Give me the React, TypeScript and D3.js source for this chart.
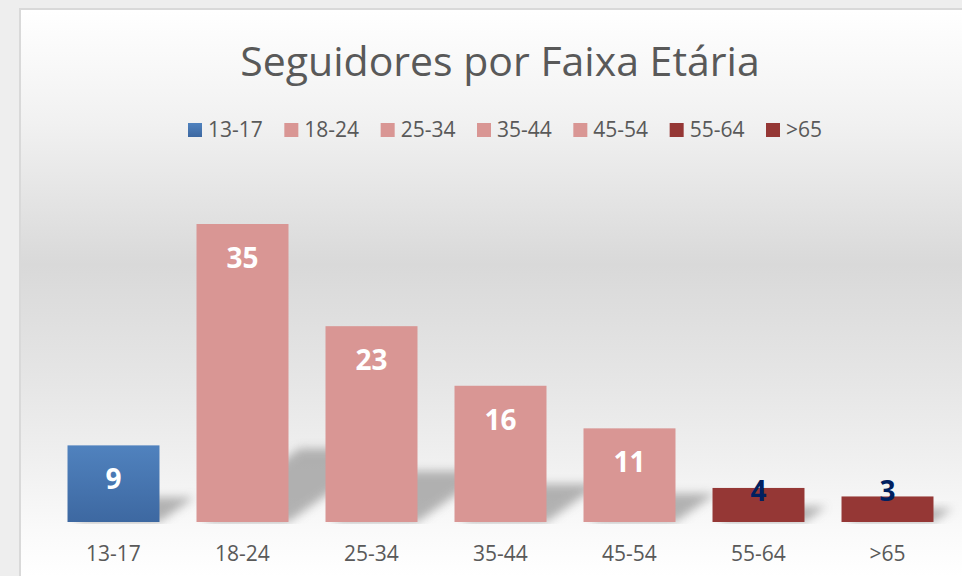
import React from "react";
import * as d3 from "d3";

const categories = ["13-17", "18-24", "25-34", "35-44", "45-54", "55-64", ">65"];
const values = [9, 35, 23, 16, 11, 4, 3];
const barColors = ["url(#blueGrad)", "#D99694", "#D99694", "#D99694", "#D99694", "#953735", "#953735"];
const labelColors = ["#FFFFFF", "#FFFFFF", "#FFFFFF", "#FFFFFF", "#FFFFFF", "#002060", "#002060"];
const title = "Seguidores por Faixa Etária";

const W = 962;
const H = 576;
const FONT = "'Open Sans', 'Noto Sans', sans-serif";

export default function App() {
  const x = d3.scaleBand<string>().domain(categories).range([49, 952]).paddingInner(0.287).paddingOuter(0.1435);
  const baseline = 522;
  const y = d3.scaleLinear().domain([0, 40]).range([baseline, baseline - 40 * 8.514]);
  const legendX = d3.scaleLinear().domain([0, categories.length - 1]).range([188, 766]);

  return (
    <div style={{ position: "absolute", left: 0, top: 0 }}>
      <svg width={W} height={H} style={{ display: "block" }} fontFamily={FONT}>
        <defs>
          <linearGradient id="bgGrad" gradientUnits="userSpaceOnUse" x1="0" y1="10" x2="0" y2="576">
            <stop offset="0" stopColor="#ffffff" />
            <stop offset="0.2" stopColor="#f1f1f1" />
            <stop offset="0.45" stopColor="#d9d9d9" />
            <stop offset="0.66" stopColor="#e6e6e6" />
            <stop offset="0.8" stopColor="#f0f0f0" />
            <stop offset="0.92" stopColor="#fafafa" />
            <stop offset="1" stopColor="#ffffff" />
          </linearGradient>
          <linearGradient id="blueGrad" x1="0" y1="0" x2="0" y2="1">
            <stop offset="0" stopColor="#5082BE" />
            <stop offset="1" stopColor="#3D68A1" />
          </linearGradient>
          <filter id="blur" x="-50%" y="-50%" width="200%" height="200%">
            <feGaussianBlur stdDeviation="5" />
          </filter>
          <clipPath id="groundClip">
            <rect x={0} y={0} width={W} height={baseline + 2} />
          </clipPath>
        </defs>
        <rect x={0} y={0} width={W} height={H} fill="#eeeeee" />
        <rect x={20} y={9} width={W + 20} height={H + 20} fill="url(#bgGrad)" stroke="#d9d9d9" strokeWidth={2} />

        <text x={500} y={76} textAnchor="middle" fontSize={41} fill="#595959">{title}</text>

        {categories.map((c, i) => (
          <g key={"lg" + i}>
            <rect x={legendX(i)} y={123} width={14} height={14} fill={barColors[i]} />
            <text x={legendX(i) + 20} y={137} fontSize={21} fill="#595959">{c}</text>
          </g>
        ))}

        <g clipPath="url(#groundClip)">
          {categories.map((c, i) => {
            const x0 = x(c)!;
            const x1 = x0 + x.bandwidth();
            const h = baseline - y(values[i]);
            const sh = 0.22 * h + 8;
            const dx = 1.4 * sh;
            const pts = [
              [x0 + 6, baseline],
              [x1, baseline],
              [x1 + dx, baseline - sh],
              [x0 + dx, baseline - sh],
            ];
            return (
              <polygon key={"sh" + i} points={pts.map((p) => p.join(",")).join(" ")} fill="#a0a0a0" opacity={0.8} filter="url(#blur)" />
            );
          })}
        </g>

        {categories.map((c, i) => (
          <rect key={"b" + i} x={x(c)} y={y(values[i])} width={x.bandwidth()} height={baseline - y(values[i])} fill={barColors[i]} />
        ))}

        {categories.map((c, i) => {
          const cy = Math.min(y(values[i]) + 34, baseline - 31);
          return (
            <text key={"v" + i} x={x(c)! + x.bandwidth() / 2} y={cy} dy="0.36em" textAnchor="middle" fontSize={28} fontWeight="bold" fill={labelColors[i]}>
              {values[i]}
            </text>
          );
        })}

        {categories.map((c, i) => (
          <text key={"ax" + i} x={x(c)! + x.bandwidth() / 2} y={560.5} textAnchor="middle" fontSize={21} fill="#595959">
            {c}
          </text>
        ))}
      </svg>
    </div>
  );
}
